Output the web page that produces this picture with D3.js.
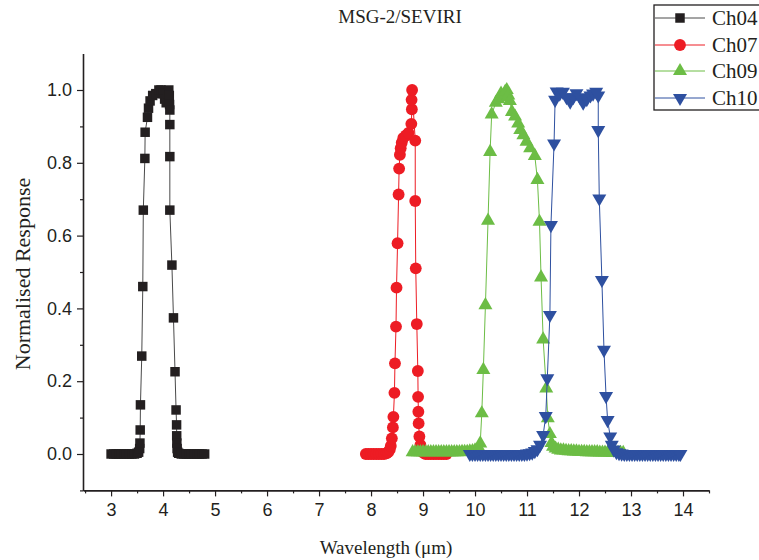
<!DOCTYPE html>
<html>
<head>
<meta charset="utf-8">
<script src="https://cdn.jsdelivr.net/npm/d3@7"></script>
<style>
  body { margin: 0; background: #fff; }
  svg { display: block; width: 759px; height: 560px; }
</style>
</head>
<body>
<svg></svg>
<script>
// Данные: длина волны (мкм) и нормированный отклик

const seriesNames = ["Ch04", "Ch07", "Ch09", "Ch10"];

const wl04 = [3.00, 3.05, 3.10, 3.15, 3.20, 3.25, 3.30, 3.35, 3.40, 3.45, 3.50, 3.53, 3.55, 3.555,
  3.56, 3.565, 3.59, 3.61, 3.62, 3.65, 3.655, 3.70, 3.72, 3.75, 3.80, 3.86, 3.92, 3.96, 4.00,
  4.03, 4.06, 4.09, 4.11, 4.12, 4.125, 4.13, 4.13, 4.13, 4.13, 4.17, 4.20, 4.23, 4.25, 4.26,
  4.262, 4.265, 4.27, 4.28, 4.30, 4.35, 4.40, 4.45, 4.50, 4.55, 4.60, 4.65, 4.70, 4.75, 4.80];
const resp04 = [0, 0, 0, 0, 0, 0, 0, 0, 0, 0, 0.002, 0.005, 0.015, 0.03,
  0.066, 0.135, 0.269, 0.46, 0.67, 0.812, 0.884, 0.925, 0.95, 0.97, 0.985, 0.99, 1.0, 1.0, 0.99,
  0.975, 0.965, 0.99, 1.0, 0.985, 0.96, 0.945, 0.905, 0.817, 0.67, 0.519, 0.374, 0.226, 0.121, 0.08,
  0.05, 0.03, 0.015, 0.005, 0.002, 0, 0, 0, 0, 0, 0, 0, 0, 0, 0];

const wl07 = [7.90, 7.95, 8.00, 8.05, 8.10, 8.15, 8.20, 8.25, 8.30, 8.33, 8.36, 8.38, 8.40, 8.42,
  8.43, 8.45, 8.46, 8.48, 8.49, 8.51, 8.53, 8.54, 8.555, 8.57, 8.59, 8.62, 8.67, 8.72, 8.775,
  8.785, 8.78, 8.79, 8.85, 8.85, 8.86, 8.88, 8.90, 8.905, 8.91, 8.915, 8.93, 8.95, 8.98, 9.00,
  9.05, 9.10, 9.15, 9.20, 9.25, 9.30, 9.35, 9.40, 9.45];
const resp07 = [0, 0, 0, 0, 0, 0, 0, 0, 0.002, 0.005, 0.012, 0.022, 0.043, 0.073,
  0.102, 0.168, 0.249, 0.35, 0.457, 0.579, 0.713, 0.784, 0.822, 0.84, 0.855, 0.868, 0.875, 0.882, 0.907,
  0.947, 0.973, 1.0, 0.861, 0.695, 0.51, 0.357, 0.228, 0.157, 0.116, 0.084, 0.048, 0.025, 0.01, 0.004,
  0, 0, 0, 0, 0, 0, 0, 0, 0];

const wl09 = [8.80, 8.85, 8.90, 8.95, 9.00, 9.05, 9.10, 9.15, 9.20, 9.25, 9.30, 9.35, 9.40, 9.45,
  9.50, 9.55, 9.60, 9.65, 9.70, 9.75, 9.80, 9.85, 9.90, 9.95, 10.00, 10.05, 10.08, 10.10, 10.13,
  10.16, 10.20, 10.25, 10.29, 10.32, 10.40, 10.45, 10.50, 10.55, 10.58, 10.61, 10.64, 10.67, 10.71,
  10.77, 10.83, 10.87, 10.93, 10.99, 11.06, 11.15, 11.20, 11.24, 11.27, 11.31, 11.37, 11.40, 11.44,
  11.47, 11.50, 11.55, 11.60, 11.65, 11.70, 11.75, 11.80, 11.85, 11.90, 11.95, 12.00, 12.05, 12.10,
  12.15, 12.20, 12.25, 12.30, 12.35, 12.40, 12.45, 12.50, 12.55, 12.60, 12.65, 12.70, 12.75, 12.80, 12.85];
const resp09 = [0.005, 0.005, 0.005, 0.005, 0.005, 0.005, 0.005, 0.005, 0.005, 0.005, 0.005, 0.005, 0.005, 0.005,
  0.005, 0.005, 0.005, 0.005, 0.005, 0.006, 0.006, 0.006, 0.007, 0.008, 0.01, 0.012, 0.015, 0.029, 0.112,
  0.231, 0.409, 0.641, 0.83, 0.933, 0.965, 0.975, 0.99, 0.98, 0.995, 1.0, 0.985, 0.97, 0.94,
  0.927, 0.908, 0.89, 0.876, 0.858, 0.84, 0.819, 0.753, 0.638, 0.485, 0.315, 0.18, 0.098, 0.055,
  0.03, 0.02, 0.015, 0.012, 0.01, 0.01, 0.009, 0.008, 0.008, 0.007, 0.007, 0.006, 0.006, 0.006,
  0.005, 0.005, 0.005, 0.005, 0.005, 0.004, 0.004, 0.004, 0.004, 0.004, 0.003, 0.003, 0.003, 0.003, 0.003];

const wl10 = [9.90, 9.95, 10.00, 10.05, 10.10, 10.15, 10.20, 10.25, 10.30, 10.35, 10.40, 10.45, 10.50,
  10.55, 10.60, 10.65, 10.70, 10.75, 10.80, 10.85, 10.90, 10.95, 11.00, 11.05, 11.10, 11.15, 11.20,
  11.25, 11.31, 11.36, 11.39, 11.44, 11.46, 11.52, 11.54, 11.57, 11.63, 11.69, 11.76, 11.83, 11.89,
  11.95, 12.02, 12.08, 12.15, 12.22, 12.27, 12.33, 12.37, 12.37, 12.39, 12.44, 12.48, 12.52, 12.55,
  12.60, 12.63, 12.67, 12.72, 12.77, 12.82, 12.87, 12.92, 12.97, 13.02, 13.07, 13.12, 13.17, 13.22,
  13.27, 13.32, 13.37, 13.42, 13.47, 13.52, 13.57, 13.62, 13.67, 13.72, 13.77, 13.82, 13.87, 13.92, 13.95];
const resp10 = [0, 0, 0, 0, 0, 0, 0, 0, 0, 0, 0, 0, 0,
  0, 0, 0, 0, 0, 0, 0, 0, 0, 0.001, 0.002, 0.004, 0.008, 0.013,
  0.025, 0.052, 0.104, 0.208, 0.382, 0.629, 0.853, 0.973, 0.996, 0.99, 0.995, 0.98, 0.968, 0.98,
  0.991, 0.98, 0.965, 0.975, 0.985, 0.99, 0.995, 0.985, 0.89, 0.702, 0.478, 0.286, 0.159, 0.093,
  0.048, 0.025, 0.012, 0.005, 0.002, 0.001, 0, 0, 0, 0, 0, 0, 0, 0,
  0, 0, 0, 0, 0, 0, 0, 0, 0, 0, 0, 0, 0, 0, 0];

const xTicks = [3, 4, 5, 6, 7, 8, 9, 10, 11, 12, 13, 14];
const xMinorTicks = [2.5, 3.5, 4.5, 5.5, 6.5, 7.5, 8.5, 9.5, 10.5, 11.5, 12.5, 13.5, 14.5];
const yTicks = [0, 0.2, 0.4, 0.6, 0.8, 1.0];
const yMinorTicks = [-0.1, 0.1, 0.3, 0.5, 0.7, 0.9];

function makeSeries(wl, resp) {
  return wl.map((w, i) => ({ x: w, y: resp[i] }));
}

const seriesList = [
  { name: seriesNames[0], values: makeSeries(wl04, resp04), color: "#231f20", line: "#4a4a4a", shape: d3.symbolSquare, size: 90, rotate: 0 },
  { name: seriesNames[1], values: makeSeries(wl07, resp07), color: "#ed1c24", line: "#ed1c24", shape: d3.symbolCircle, size: 110, rotate: 0 },
  { name: seriesNames[2], values: makeSeries(wl09, resp09), color: "#6cbd45", line: "#6cbd45", shape: d3.symbolTriangle, size: 85, rotate: 0 },
  { name: seriesNames[3], values: makeSeries(wl10, resp10), color: "#2e50a0", line: "#2e50a0", shape: d3.symbolTriangle, size: 85, rotate: 180 }
];

function drawGraph() {
  const svg = d3.select("svg");
  svg.selectAll('*').remove();

  const attr_area = {
    left: 83,
    right: 709,
    top: 53.6,
    bottom: 490.4
  };

  const scX = d3.scaleLinear().domain([2.46, 14.5]).range([attr_area.left, attr_area.right]);
  const scY = d3.scaleLinear().domain([-0.1, 1.1]).range([attr_area.bottom, attr_area.top]);

  createAxis(svg, scX, scY, attr_area);

  for (let s of seriesList) {
    createChart(svg, s, scX, scY);
  }

  createLegend(svg);
}

function createAxis(svg, scX, scY, attr_area) {
  const tickFont = "'Liberation Sans', Arial, sans-serif";

  // ось ОХ
  svg.append("g")
    .attr("transform", `translate(0, ${attr_area.bottom})`)
    .call(d3.axisBottom(scX).tickValues(xMinorTicks).tickSize(3).tickSizeOuter(0).tickFormat(""))
    .call(g => g.select(".domain").remove())
    .selectAll("line").attr("stroke", "#231f20").attr("stroke-width", 1.2);

  const gx = svg.append("g")
    .attr("transform", `translate(0, ${attr_area.bottom})`)
    .call(d3.axisBottom(scX).tickValues(xTicks).tickSize(6).tickSizeOuter(0).tickPadding(7));
  gx.select(".domain").attr("stroke", "#231f20").attr("stroke-width", 1.6);
  gx.selectAll("line").attr("stroke", "#231f20").attr("stroke-width", 1.2);
  gx.selectAll("text")
    .style("font-family", tickFont)
    .style("font-size", "18px")
    .attr("fill", "#231f20");

  // ось ОY
  svg.append("g")
    .attr("transform", `translate(${attr_area.left}, 0)`)
    .call(d3.axisLeft(scY).tickValues(yMinorTicks).tickSize(3).tickSizeOuter(0).tickFormat(""))
    .call(g => g.select(".domain").remove())
    .selectAll("line").attr("stroke", "#231f20").attr("stroke-width", 1.2);

  const gy = svg.append("g")
    .attr("transform", `translate(${attr_area.left}, 0)`)
    .call(d3.axisLeft(scY).tickValues(yTicks).tickSize(6).tickSizeOuter(0).tickPadding(5).tickFormat(d3.format(".1f")));
  gy.select(".domain").attr("stroke", "#231f20").attr("stroke-width", 1.6);
  gy.selectAll("line").attr("stroke", "#231f20").attr("stroke-width", 1.2);
  gy.selectAll("text")
    .style("font-family", tickFont)
    .style("font-size", "18px")
    .attr("fill", "#231f20");

  const serif = "'Liberation Serif', 'Times New Roman', serif";

  svg.append("text")
    .attr("x", 400)
    .attr("y", 23)
    .attr("text-anchor", "middle")
    .style("font-family", serif)
    .style("font-size", "19px")
    .attr("fill", "#231f20")
    .text("MSG-2/SEVIRI");

  svg.append("text")
    .attr("x", 386)
    .attr("y", 554)
    .attr("text-anchor", "middle")
    .style("font-family", serif)
    .style("font-size", "19px")
    .attr("fill", "#231f20")
    .text("Wavelength (μm)");

  svg.append("text")
    .attr("transform", "translate(30, 274) rotate(-90)")
    .attr("text-anchor", "middle")
    .style("font-family", serif)
    .style("font-size", "22px")
    .attr("fill", "#231f20")
    .text("Normalised Response");
}

function createChart(svg, s, scX, scY) {
  const line = d3.line()
    .x(d => scX(d.x))
    .y(d => scY(d.y));

  svg.append("path")
    .datum(s.values)
    .attr("d", line)
    .attr("fill", "none")
    .attr("stroke", s.line)
    .attr("stroke-width", 1);

  const sym = d3.symbol().type(s.shape).size(s.size);

  svg.append("g")
    .selectAll("path")
    .data(s.values)
    .enter()
    .append("path")
    .attr("d", sym)
    .attr("transform", d => `translate(${scX(d.x)}, ${scY(d.y)}) rotate(${s.rotate})`)
    .attr("fill", s.color);
}

function createLegend(svg) {
  const g = svg.append("g");
  const rowY = [18, 45, 71, 98];

  g.append("rect")
    .attr("x", 654)
    .attr("y", 5)
    .attr("width", 130)
    .attr("height", 105)
    .attr("fill", "#fff")
    .attr("stroke", "#231f20")
    .attr("stroke-width", 1.3);

  seriesList.forEach((s, i) => {
    g.append("line")
      .attr("x1", 655).attr("x2", 705)
      .attr("y1", rowY[i]).attr("y2", rowY[i])
      .attr("stroke", s.line)
      .attr("stroke-width", 1);

    g.append("path")
      .attr("d", d3.symbol().type(s.shape).size(s.size)())
      .attr("transform", `translate(680, ${rowY[i]}) rotate(${s.rotate})`)
      .attr("fill", s.color);

    g.append("text")
      .attr("x", 712)
      .attr("y", rowY[i])
      .attr("dy", "0.35em")
      .style("font-family", "'Liberation Serif', 'Times New Roman', serif")
      .style("font-size", "21px")
      .attr("fill", "#231f20")
      .text(s.name);
  });
}

drawGraph();
</script>
</body>
</html>
